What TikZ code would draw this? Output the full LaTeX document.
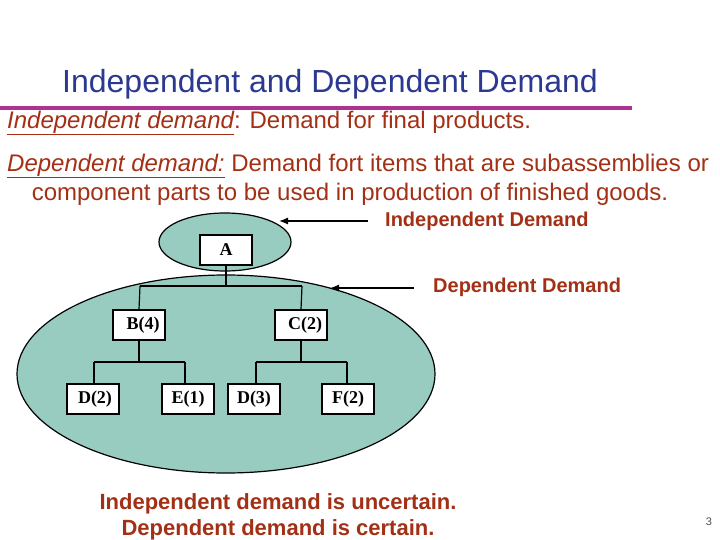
\documentclass[tikz,border=0pt]{standalone}
\usepackage{fontspec}
\setmainfont{Liberation Sans}
\newfontfamily\serifbox{Liberation Serif}
\usetikzlibrary{arrows.meta,shapes.geometric}
\definecolor{ttlblue}{RGB}{43,57,144}
\definecolor{txtred}{RGB}{163,48,21}
\definecolor{tealfill}{RGB}{153,204,192}
\definecolor{magline}{RGB}{176,50,144}
\tikzset{
  itembox/.style={draw=black, line width=1.2pt, fill=white, minimum width=52pt, minimum height=30pt, inner sep=0pt, font=\serifbox\bfseries\fontsize{18}{20}\selectfont},
  blob/.style={draw=black, line width=1.2pt, fill=tealfill},
  link/.style={draw=black, line width=1.2pt},
  pointer/.style={draw=black, line width=1.3pt, -{Latex[length=9pt,width=7pt]}},
  bodytxt/.style={text=txtred, font=\fontsize{24}{28}\selectfont, inner sep=0pt},
  boldtxt/.style={text=txtred, font=\bfseries\fontsize{20}{24}\selectfont, inner sep=0pt},
}
\begin{document}
\begin{tikzpicture}[x=1pt,y=-1pt]
\useasboundingbox (0,0) rectangle (720,540);
% title
\node[text=ttlblue, font=\fontsize{32}{38}\selectfont, inner sep=0pt] (title) at (330,84) {Independent and Dependent Demand};
\draw[magline, line width=4pt] (0,108) -- (632,108);
% body text
\node[bodytxt, anchor=west] (l1) at (7,123) {\underline{\itshape Independent demand}: Demand for final products.};
\node[bodytxt, anchor=west] (l2) at (7,166) {\underline{\itshape Dependent demand:} Demand fort items that are subassemblies or};
\node[bodytxt] (l3) at (350,194) {component parts to be used in production of finished goods.};
% ellipses
\node[blob, ellipse, minimum width=418pt, minimum height=198pt, inner sep=0pt] (big) at (226,374) {};
\node[blob, ellipse, minimum width=132pt, minimum height=58pt, inner sep=0pt] (small) at (225,242) {};
% boxes
\node[itembox] (A) at (226,250) {\raisebox{-2pt}{A}};
\node[itembox] (B) at (139,325) {\hspace{8pt}\raisebox{-3pt}{B(4)}};
\node[itembox] (C) at (301,325) {\hspace{8pt}\raisebox{-1pt}{C(2)}};
\node[itembox] (D2) at (93,399) {\hspace{4pt}\raisebox{-2pt}{D(2)}};
\node[itembox] (E1) at (188,399) {\raisebox{-2pt}{E(1)}};
\node[itembox] (D3) at (254,399) {\raisebox{-3pt}{D(3)}};
\node[itembox] (F2) at (348,399) {\raisebox{-1pt}{F(2)}};
% tree links
\draw[link] (A.south) -- (226,286) coordinate (j1);
\draw[link] (140,286) -- (302,286);
\draw[link] (140,286) -- (B.north);
\draw[link] (302,286) -- (C.north);
\draw[link] (B.south) -- (139,362);
\draw[link] (94,362) -- (185,362);
\draw[link] (94,362) -- (94,384);
\draw[link] (185,362) -- (185,384);
\draw[link] (C.south) -- (301,362);
\draw[link] (256,362) -- (347,362);
\draw[link] (256,362) -- (256,384);
\draw[link] (347,362) -- (347,384);
% labels with arrows
\node[boldtxt, anchor=west] (indl) at (385,221) {Independent Demand};
\node[boldtxt, anchor=west] (depl) at (433,287) {Dependent Demand};
\coordinate (indtail) at (368,221);
\coordinate (indtip) at (279,221);
\coordinate (deptail) at (414,288);
\coordinate (deptip) at (330,288);
\draw[pointer] (indtail) -- (indtip);
\draw[pointer] (deptail) -- (deptip);
% bottom text
\node[text=txtred, font=\bfseries\fontsize{22}{26}\selectfont, align=center, inner sep=0pt] (bottom) at (278,517) {Independent demand is uncertain.\\Dependent demand is certain.};
\node[text=black!70, font=\fontsize{11}{13}\selectfont, inner sep=0pt] (pg) at (709,522) {3};
\end{tikzpicture}
\end{document}
